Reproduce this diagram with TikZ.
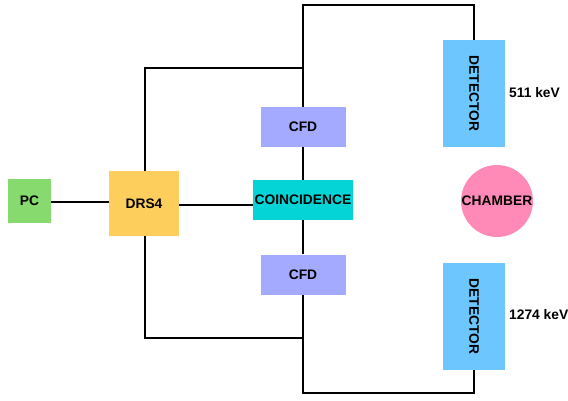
\documentclass[tikz,border=0pt]{standalone}
\usepackage{fontspec}
\setmainfont{Liberation Sans}
\usepackage{tikz}
\usetikzlibrary{positioning, calc}
\definecolor{pcgreen}{RGB}{134,218,110}
\definecolor{drsorange}{RGB}{254,206,92}
\definecolor{cfdblue}{RGB}{163,170,255}
\definecolor{coincyan}{RGB}{4,212,214}
\definecolor{detblue}{RGB}{110,198,255}
\definecolor{chpink}{RGB}{255,138,184}
\tikzset{
  box/.style={rectangle, draw=none, inner sep=0pt, align=center,
    font=\fontsize{13.8}{16}\selectfont\bfseries},
  detbox/.style={box, fill=detblue, minimum width=62pt, minimum height=107pt},
  cfdbox/.style={box, fill=cfdblue, minimum width=85pt, minimum height=40pt},
  wire/.style={line width=1.6pt, color=black}
}
\begin{document}
\begin{tikzpicture}[x=1pt, y=-1pt]
  \useasboundingbox (0,0) rectangle (568,401);

  % PC and DRS4
  \node[box, fill=pcgreen, minimum width=43pt, minimum height=44pt] (pc) at (29.5,201) {PC};
  \node[box, fill=drsorange, minimum width=70pt, minimum height=65pt] (drs4) at (144,203.5) {DRS4};

  % CFDs and coincidence
  \node[cfdbox] (cfd1) at (303,127) {CFD};
  \node[box, fill=coincyan, minimum width=100pt, minimum height=40pt] (coin) at (303,200) {COINCIDENCE};
  \node[cfdbox] (cfd2) at (303,274.5) {CFD};

  % Detectors
  \node[detbox] (det1) at (474,93.5) {\rotatebox{-90}{DETECTOR}};
  \node[detbox] (det2) at (474,316.5) {\rotatebox{-90}{DETECTOR}};
  \node[box, anchor=west] (e1) at (509,93) {511 keV};
  \node[box, anchor=west] (e2) at (509,315) {1274 keV};

  % Chamber
  \node[box, circle, fill=chpink, minimum size=72pt] (chamber) at (497,201) {CHAMBER};

  % corners
  \coordinate (tr) at (303,5);
  \coordinate (br) at (303,393);
  \coordinate (ul) at (303,68);
  \coordinate (ll) at (303,338);

  % Connections
  \draw[wire] (pc.east |- 0,202) -- (drs4.west |- 0,202);
  \draw[wire] (drs4.east |- 0,205) -- (coin.west |- 0,205);
  \draw[wire] (cfd1.north) -- (tr) -| (det1.north);
  \draw[wire] (cfd1.south) -- (coin.north);
  \draw[wire] (coin.south) -- (cfd2.north);
  \draw[wire] (cfd2.south) -- (br) -| (det2.south);
  \draw[wire] ($(drs4.north)+(1,0)$) |- (ul);
  \draw[wire] ($(drs4.south)+(1,0)$) |- (ll);
\end{tikzpicture}
\end{document}
